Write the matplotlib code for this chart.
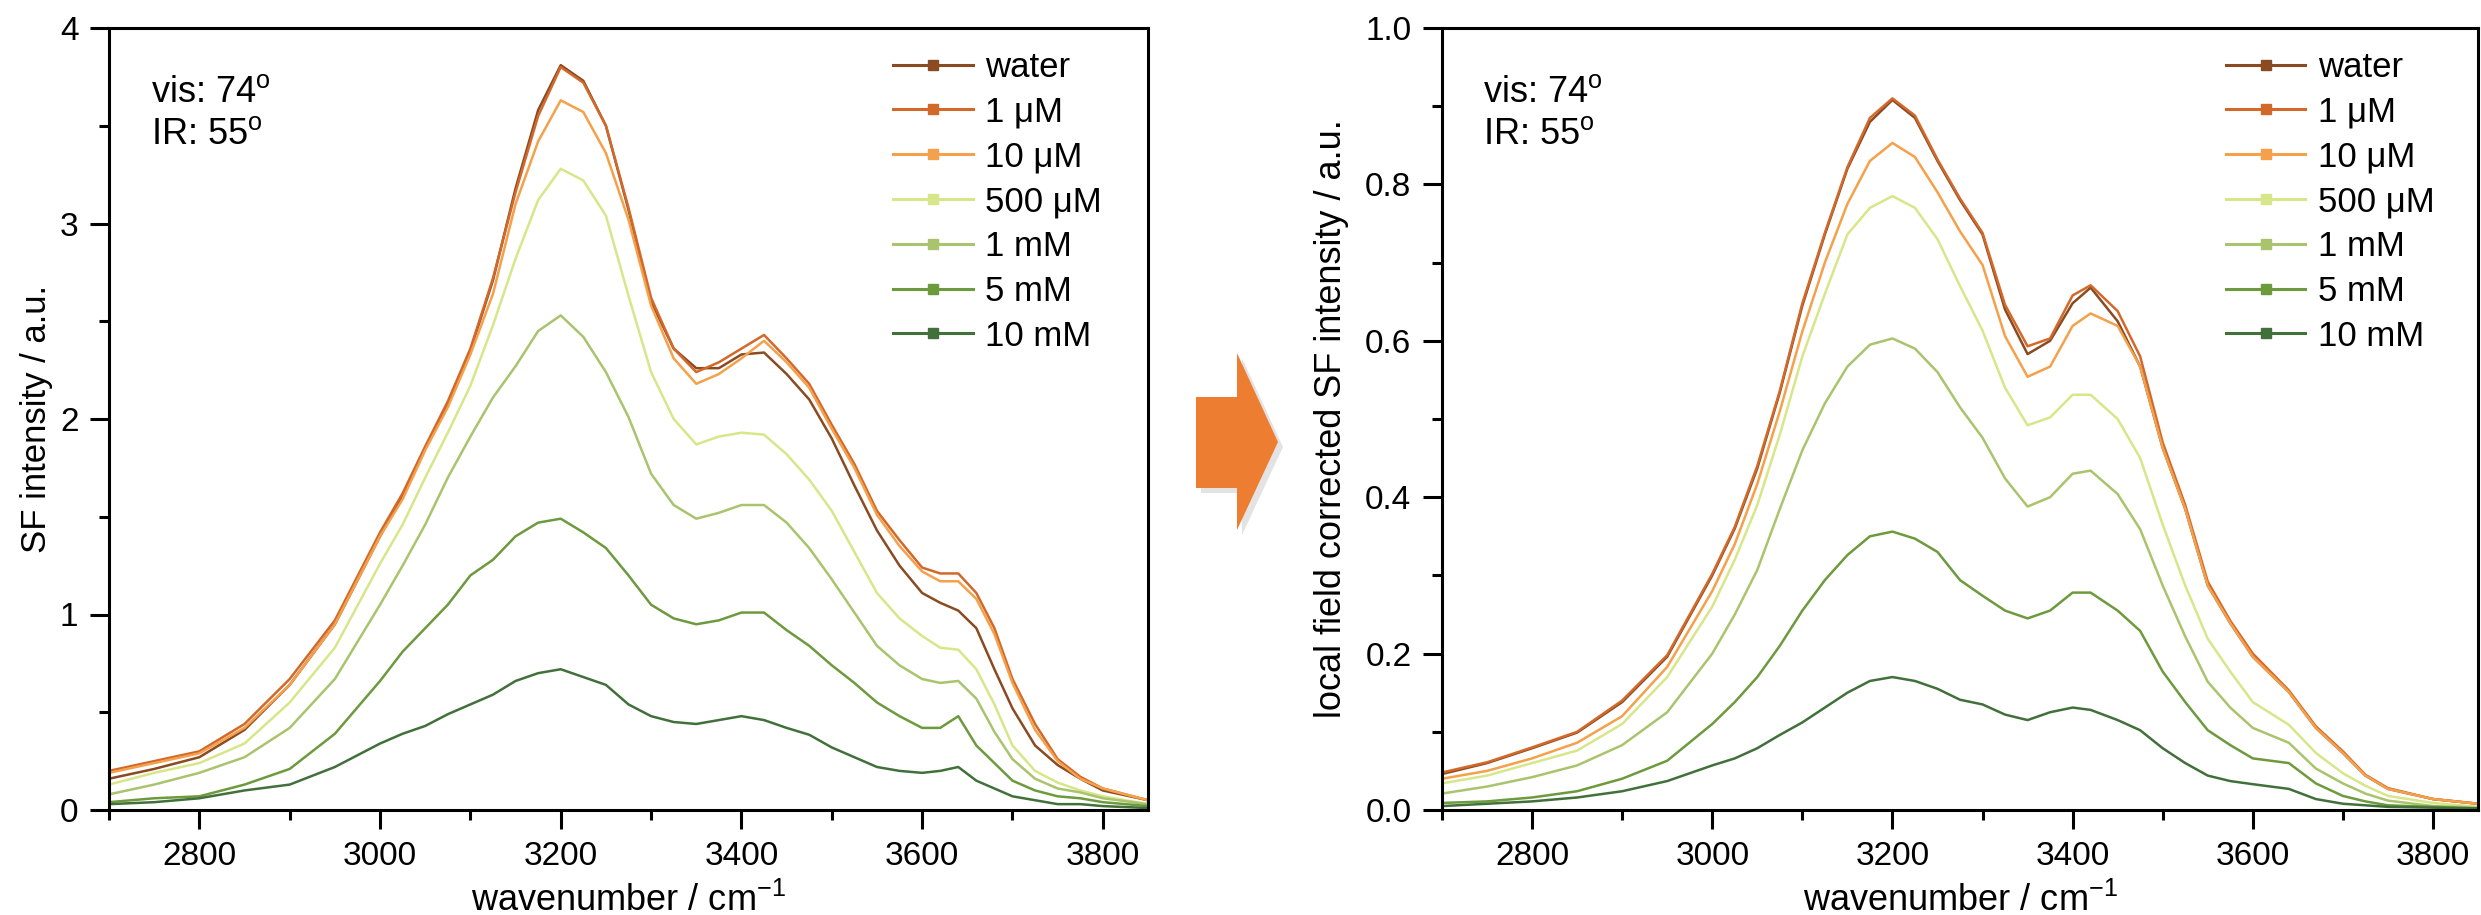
import numpy as np
import matplotlib
matplotlib.use("Agg")
import matplotlib.pyplot as plt
from matplotlib.patches import Polygon
from matplotlib.ticker import MultipleLocator

plt.rcParams['font.family'] = ['Liberation Sans', 'DejaVu Sans']

# ---- data ----
labels = ['water', '1 μM', '10 μM', '500 μM', '1 mM', '5 mM', '10 mM']
colors = ['#8a4a22', '#d2692a', '#f5a04a', '#d8e68a', '#a9c46c', '#6d9a3d', '#41703b']

# left panel: raw SF intensity
wn_raw = [2700, 2750, 2800, 2850, 2900, 2950, 3000, 3025, 3050, 3075, 3100, 3125, 3150, 3175,
          3200, 3225, 3250, 3275, 3300, 3325, 3350, 3375, 3400, 3425, 3450, 3475, 3500, 3525,
          3550, 3575, 3600, 3620, 3640, 3660, 3680, 3700, 3725, 3750, 3775, 3800, 3850]
raw_water = [0.16, 0.21, 0.27, 0.41, 0.64, 0.95, 1.40, 1.61, 1.85, 2.08, 2.35, 2.71, 3.18, 3.58,
             3.81, 3.73, 3.50, 3.07, 2.60, 2.36, 2.26, 2.26, 2.33, 2.34, 2.23, 2.10, 1.90, 1.66,
             1.43, 1.25, 1.11, 1.06, 1.02, 0.93, 0.72, 0.52, 0.33, 0.23, 0.16, 0.10, 0.05]
raw_1uM = [0.20, 0.25, 0.30, 0.44, 0.67, 0.97, 1.42, 1.62, 1.86, 2.09, 2.36, 2.72, 3.16, 3.55,
           3.80, 3.72, 3.50, 3.08, 2.62, 2.36, 2.24, 2.29, 2.36, 2.43, 2.31, 2.18, 1.97, 1.77,
           1.53, 1.38, 1.24, 1.21, 1.21, 1.11, 0.93, 0.67, 0.44, 0.26, 0.17, 0.11, 0.05]
raw_10uM = [0.19, 0.24, 0.29, 0.42, 0.64, 0.95, 1.40, 1.59, 1.84, 2.06, 2.33, 2.64, 3.10, 3.42,
            3.63, 3.57, 3.36, 3.02, 2.58, 2.31, 2.18, 2.23, 2.31, 2.40, 2.29, 2.16, 1.95, 1.75,
            1.51, 1.35, 1.22, 1.17, 1.17, 1.08, 0.90, 0.65, 0.41, 0.25, 0.16, 0.11, 0.05]
raw_500uM = [0.13, 0.19, 0.24, 0.34, 0.55, 0.83, 1.26, 1.46, 1.70, 1.93, 2.17, 2.48, 2.82, 3.12,
             3.28, 3.22, 3.04, 2.63, 2.24, 2.00, 1.87, 1.91, 1.93, 1.92, 1.82, 1.69, 1.53, 1.32,
             1.11, 0.98, 0.89, 0.83, 0.82, 0.72, 0.54, 0.33, 0.20, 0.14, 0.10, 0.07, 0.03]
raw_1mM = [0.08, 0.13, 0.19, 0.27, 0.42, 0.67, 1.05, 1.25, 1.46, 1.70, 1.91, 2.11, 2.27, 2.45,
           2.53, 2.42, 2.24, 2.01, 1.72, 1.56, 1.49, 1.52, 1.56, 1.56, 1.47, 1.34, 1.18, 1.01,
           0.84, 0.74, 0.67, 0.65, 0.66, 0.57, 0.40, 0.26, 0.16, 0.11, 0.09, 0.06, 0.03]
raw_5mM = [0.04, 0.06, 0.07, 0.13, 0.21, 0.39, 0.66, 0.81, 0.93, 1.05, 1.20, 1.28, 1.40, 1.47,
           1.49, 1.42, 1.34, 1.20, 1.05, 0.98, 0.95, 0.97, 1.01, 1.01, 0.92, 0.84, 0.74, 0.65,
           0.55, 0.48, 0.42, 0.42, 0.48, 0.33, 0.24, 0.15, 0.10, 0.07, 0.06, 0.04, 0.02]
raw_10mM = [0.03, 0.04, 0.06, 0.10, 0.13, 0.22, 0.34, 0.39, 0.43, 0.49, 0.54, 0.59, 0.66, 0.70,
            0.72, 0.68, 0.64, 0.54, 0.48, 0.45, 0.44, 0.46, 0.48, 0.46, 0.42, 0.385, 0.32, 0.27,
            0.22, 0.20, 0.19, 0.20, 0.22, 0.15, 0.11, 0.07, 0.05, 0.03, 0.03, 0.02, 0.01]

# right panel: local field corrected
wn_lfc = [2700, 2750, 2800, 2850, 2900, 2950, 3000, 3025, 3050, 3075, 3100, 3125, 3150, 3175,
          3200, 3225, 3250, 3275, 3300, 3325, 3350, 3375, 3400, 3420, 3450, 3475, 3500, 3525,
          3550, 3575, 3600, 3640, 3670, 3700, 3725, 3750, 3800, 3850]
lfc_water = [0.046, 0.060, 0.079, 0.099, 0.138, 0.196, 0.300, 0.360, 0.437, 0.534, 0.645, 0.736, 0.820, 0.880,
             0.908, 0.885, 0.830, 0.780, 0.736, 0.640, 0.583, 0.600, 0.648, 0.668, 0.625, 0.567, 0.463, 0.385,
             0.287, 0.239, 0.196, 0.151, 0.105, 0.073, 0.044, 0.027, 0.014, 0.008]
lfc_1uM = [0.048, 0.061, 0.080, 0.100, 0.140, 0.198, 0.302, 0.362, 0.440, 0.536, 0.648, 0.738, 0.822, 0.885,
           0.910, 0.888, 0.832, 0.782, 0.738, 0.646, 0.593, 0.603, 0.658, 0.671, 0.638, 0.580, 0.470, 0.390,
           0.292, 0.242, 0.200, 0.153, 0.107, 0.075, 0.045, 0.028, 0.014, 0.008]
lfc_10uM = [0.040, 0.050, 0.066, 0.086, 0.120, 0.183, 0.280, 0.340, 0.417, 0.510, 0.612, 0.700, 0.775, 0.830,
            0.853, 0.835, 0.790, 0.740, 0.697, 0.606, 0.554, 0.567, 0.619, 0.635, 0.619, 0.567, 0.463, 0.385,
            0.287, 0.239, 0.196, 0.151, 0.105, 0.073, 0.044, 0.027, 0.014, 0.008]
lfc_500uM = [0.034, 0.044, 0.060, 0.076, 0.110, 0.170, 0.260, 0.320, 0.390, 0.480, 0.580, 0.660, 0.736, 0.770,
             0.785, 0.770, 0.730, 0.670, 0.613, 0.540, 0.492, 0.502, 0.531, 0.531, 0.500, 0.450, 0.365, 0.287,
             0.219, 0.177, 0.138, 0.109, 0.073, 0.047, 0.031, 0.018, 0.009, 0.004]
lfc_1mM = [0.021, 0.030, 0.042, 0.057, 0.083, 0.125, 0.200, 0.250, 0.307, 0.385, 0.460, 0.520, 0.567, 0.595,
           0.603, 0.590, 0.560, 0.515, 0.476, 0.424, 0.388, 0.400, 0.430, 0.434, 0.404, 0.359, 0.287, 0.222,
           0.164, 0.131, 0.105, 0.086, 0.053, 0.034, 0.021, 0.012, 0.005, 0.003]
lfc_5mM = [0.009, 0.011, 0.016, 0.024, 0.040, 0.063, 0.110, 0.138, 0.170, 0.210, 0.255, 0.294, 0.326, 0.350,
           0.356, 0.347, 0.330, 0.294, 0.274, 0.255, 0.245, 0.255, 0.278, 0.278, 0.255, 0.229, 0.177, 0.138,
           0.102, 0.083, 0.066, 0.060, 0.034, 0.018, 0.011, 0.006, 0.004, 0.002]
lfc_10mM = [0.005, 0.008, 0.011, 0.016, 0.024, 0.037, 0.057, 0.066, 0.079, 0.096, 0.112, 0.131, 0.150, 0.165,
            0.170, 0.165, 0.155, 0.141, 0.135, 0.122, 0.115, 0.125, 0.131, 0.128, 0.115, 0.102, 0.079, 0.060,
            0.044, 0.037, 0.033, 0.027, 0.014, 0.008, 0.006, 0.004, 0.003, 0.002]

raw_series = [raw_water, raw_1uM, raw_10uM, raw_500uM, raw_1mM, raw_5mM, raw_10mM]
lfc_series = [lfc_water, lfc_1uM, lfc_10uM, lfc_500uM, lfc_1mM, lfc_5mM, lfc_10mM]

W, H = 2481, 915
fig = plt.figure(figsize=(W / 100, H / 100), dpi=100)
ax1 = fig.add_axes([109 / W, 1 - 810 / H, 1039 / W, 782 / H])
ax2 = fig.add_axes([1442 / W, 1 - 810 / H, 1036 / W, 782 / H])


def style(ax, ymax, ymaj, ymin):
    ax.set_xlim(2700, 3850)
    ax.set_ylim(0, ymax)
    ax.xaxis.set_major_locator(MultipleLocator(200))
    ax.xaxis.set_minor_locator(MultipleLocator(100))
    ax.yaxis.set_major_locator(MultipleLocator(ymaj))
    ax.yaxis.set_minor_locator(MultipleLocator(ymin))
    ax.tick_params(which='both', direction='out', top=False, right=False, width=2.2, labelsize=24)
    ax.tick_params(which='major', length=14, pad=8)
    ax.tick_params(which='minor', length=7)
    for s in ax.spines.values():
        s.set_linewidth(2.2)
    ax.set_xlabel('wavenumber / cm$^{\\mathregular{-1}}$', fontsize=26, labelpad=8)
    ax.text(0.04, 0.917, 'vis: 74$^{\\mathregular{o}}$', transform=ax.transAxes, fontsize=26, va='center')
    ax.text(0.04, 0.864, 'IR: 55$^{\\mathregular{o}}$', transform=ax.transAxes, fontsize=26, va='center')


for ax, xs, series in [(ax1, wn_raw, raw_series), (ax2, wn_lfc, lfc_series)]:
    for lab, c, ys in zip(labels, colors, series):
        ax.plot(xs, ys, color=c, lw=1.8, label=lab)

style(ax1, 4, 1, 0.5)
style(ax2, 1.0, 0.2, 0.1)
ax1.yaxis.set_major_formatter(plt.FormatStrFormatter('%d'))
ax2.yaxis.set_major_formatter(plt.FormatStrFormatter('%.1f'))
ax1.set_ylabel('SF intensity / a.u.', fontsize=25, labelpad=5)
ax2.set_ylabel('local field corrected SF intensity / a.u.', fontsize=26, labelpad=12)

for ax, x0 in [(ax1, 0.755), (ax2, 0.757)]:
    handles = [plt.Line2D([], [], color=c, lw=2.2, marker='s', markersize=7)
               for c in colors]
    ax.legend(handles, labels, loc='upper left', bbox_to_anchor=(x0, 0.971), frameon=False,
              fontsize=25, handlelength=2.28, handletextpad=0.35, labelspacing=0.34,
              borderpad=0, borderaxespad=0)

# orange block arrow between the panels, with a soft shadow
arrow_px = [(1196, 397), (1237, 397), (1237, 353), (1278, 442), (1237, 530), (1237, 488), (1196, 488)]
shadow = [((x + 5) / W, 1 - (y + 5) / H) for x, y in arrow_px]
pts = [(x / W, 1 - y / H) for x, y in arrow_px]
fig.patches.append(Polygon(shadow, closed=True, transform=fig.transFigure,
                           facecolor='#b0b0b0', edgecolor='none', alpha=0.35))
fig.patches.append(Polygon(pts, closed=True, transform=fig.transFigure,
                           facecolor='#ed7d31', edgecolor='none'))

fig.savefig('out.png', dpi=100)
